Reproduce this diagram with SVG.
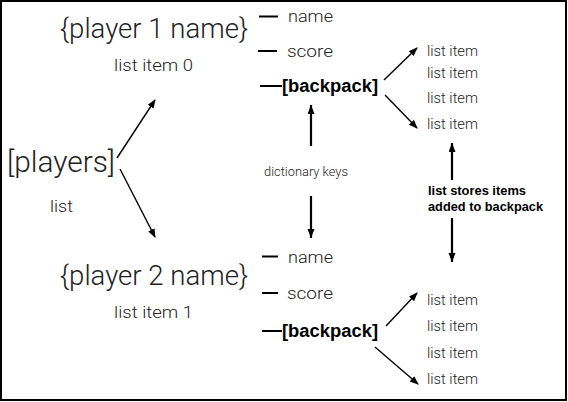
<svg xmlns="http://www.w3.org/2000/svg" width="568" height="402" viewBox="0 0 568 402">
<style>
.t{font-family:Roboto,"Liberation Sans",sans-serif;font-weight:300;fill:#222}
.b{font-family:"Liberation Sans",Arial,sans-serif;font-weight:700;fill:#000}
.big{font-size:27px}
.med{font-size:16px}
.li{font-size:14.5px}
.sm{font-size:12px}
.dash{stroke:#000;stroke-width:2}
.thin{stroke:#000;stroke-width:1.4;fill:none;marker-end:url(#ah)}
.thick{stroke:#000;stroke-width:2.2;fill:none;marker-end:url(#ahb)}
</style>
<defs>
<marker id="ah" markerUnits="userSpaceOnUse" markerWidth="9" markerHeight="8" refX="8" refY="3.5" orient="auto"><path d="M0,0 L9,3.5 L0,7 z" fill="#000"/></marker>
<marker id="ahb" markerUnits="userSpaceOnUse" markerWidth="10" markerHeight="8" refX="9" refY="3.5" orient="auto"><path d="M0,0 L9,3.5 L0,7 z" fill="#000"/></marker>
</defs>
<rect x="1" y="1" width="565" height="399" fill="#fff" stroke="#000" stroke-width="2"/>

<g id="players">
<text class="t" x="7" y="172" font-size="29" textLength="108" lengthAdjust="spacingAndGlyphs">[players]</text>
<text class="t med" x="50" y="212" textLength="23" lengthAdjust="spacingAndGlyphs">list</text>
</g>

<g id="player1">
<text class="t big" x="60" y="38" textLength="188" lengthAdjust="spacingAndGlyphs">{player 1 name}</text>
<text class="t med" x="114" y="71" textLength="79" lengthAdjust="spacingAndGlyphs">list item 0</text>
</g>

<g id="player2">
<text class="t big" x="60" y="285" textLength="188" lengthAdjust="spacingAndGlyphs">{player 2 name}</text>
<text class="t med" x="114" y="318" textLength="79" lengthAdjust="spacingAndGlyphs">list item 1</text>
</g>

<g id="keys1">
<line class="dash" x1="259" y1="16.5" x2="278" y2="16.5"/>
<text class="t med" x="288" y="22" textLength="45" lengthAdjust="spacingAndGlyphs">name</text>
<line class="dash" x1="258" y1="51" x2="277" y2="51"/>
<text class="t med" x="287" y="57" textLength="46" lengthAdjust="spacingAndGlyphs">score</text>
<line class="dash" x1="260" y1="86" x2="282" y2="86"/>
<text class="b" x="282" y="92" font-size="18" textLength="96" lengthAdjust="spacingAndGlyphs">[backpack]</text>
</g>

<g id="items1">
<text class="t li" x="427" y="56" textLength="51" lengthAdjust="spacingAndGlyphs">list item</text>
<text class="t li" x="427" y="78" textLength="51" lengthAdjust="spacingAndGlyphs">list item</text>
<text class="t li" x="427" y="103" textLength="51" lengthAdjust="spacingAndGlyphs">list item</text>
<text class="t li" x="427" y="129" textLength="51" lengthAdjust="spacingAndGlyphs">list item</text>
</g>

<g id="keys2">
<line class="dash" x1="262" y1="256.5" x2="278" y2="256.5"/>
<text class="t med" x="288" y="263" textLength="45" lengthAdjust="spacingAndGlyphs">name</text>
<line class="dash" x1="262" y1="293" x2="278" y2="293"/>
<text class="t med" x="287" y="299" textLength="46" lengthAdjust="spacingAndGlyphs">score</text>
<line class="dash" x1="262" y1="331" x2="282" y2="331"/>
<text class="b" x="282" y="337" font-size="18" textLength="96" lengthAdjust="spacingAndGlyphs">[backpack]</text>
</g>

<g id="items2">
<text class="t li" x="427" y="305" textLength="51" lengthAdjust="spacingAndGlyphs">list item</text>
<text class="t li" x="427" y="331" textLength="51" lengthAdjust="spacingAndGlyphs">list item</text>
<text class="t li" x="427" y="358" textLength="51" lengthAdjust="spacingAndGlyphs">list item</text>
<text class="t li" x="427" y="384" textLength="51" lengthAdjust="spacingAndGlyphs">list item</text>
</g>

<g id="dict-label">
<text class="t sm" x="264" y="176" textLength="84" lengthAdjust="spacingAndGlyphs">dictionary keys</text>
</g>

<g id="store-label">
<text class="b" x="428" y="195" font-size="12.5" textLength="98" lengthAdjust="spacingAndGlyphs">list stores items</text>
<text class="b" x="428" y="211" font-size="12.5" textLength="115" lengthAdjust="spacingAndGlyphs">added to backpack</text>
</g>

<g id="connectors">
<line class="thin" x1="117" y1="158" x2="155" y2="100"/>
<line class="thin" x1="120" y1="169" x2="155" y2="237"/>
<line class="thin" x1="384" y1="80" x2="417" y2="48"/>
<line class="thin" x1="385" y1="95" x2="417" y2="128"/>
<line class="thin" x1="386" y1="326" x2="417" y2="293"/>
<line class="thin" x1="375" y1="347" x2="418" y2="384"/>
<line class="thick" x1="311" y1="146" x2="311" y2="105"/>
<line class="thick" x1="311" y1="196" x2="311" y2="238"/>
<line class="thick" x1="452" y1="180" x2="452" y2="143"/>
<line class="thick" x1="452" y1="218" x2="452" y2="262"/>
</g>
</svg>
